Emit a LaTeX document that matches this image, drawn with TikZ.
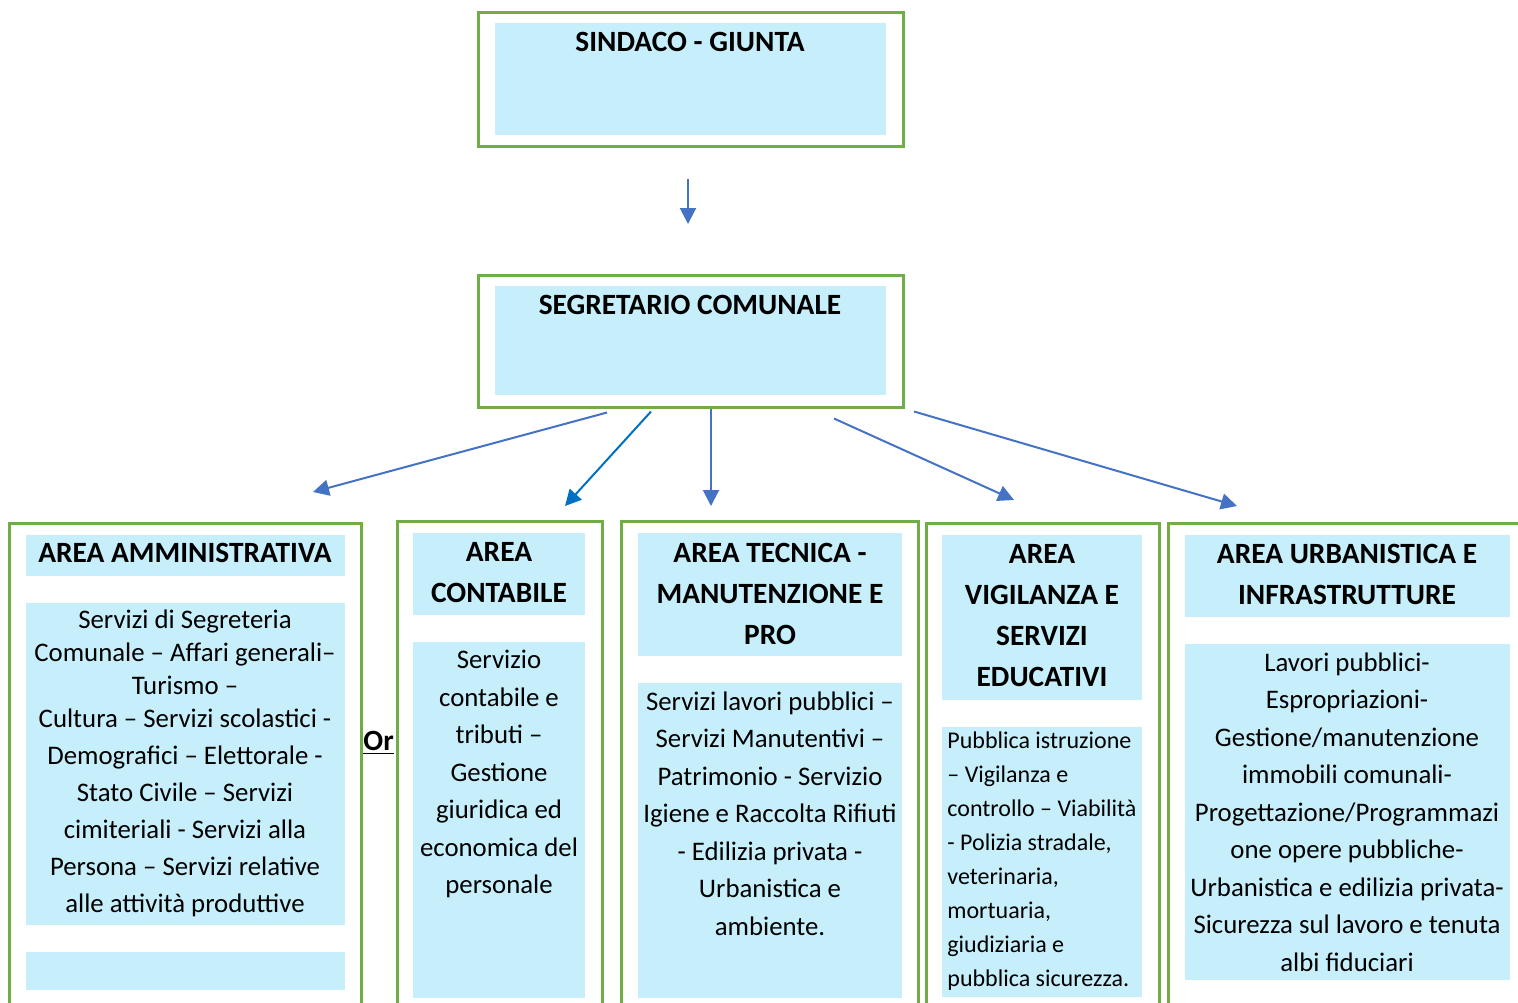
\documentclass[tikz,border=0pt]{standalone}
\usepackage{fontspec}
\setmainfont{Carlito}
\usepackage{xcolor}
\usepackage{tikz}
\usetikzlibrary{arrows.meta, positioning, fit, calc}
\definecolor{framegreen}{RGB}{112, 173, 71}
\definecolor{panelblue}{RGB}{198, 239, 251}
\definecolor{arrowblue}{RGB}{68, 114, 196}
\definecolor{arrowcyan}{RGB}{0, 112, 192}

\begin{document}
\begin{tikzpicture}[x=0.5pt, y=-0.5pt,
    frame/.style={rectangle, draw=framegreen, line width=1.5pt, inner sep=0pt},
    panel/.style={rectangle, fill=panelblue, inner sep=0pt},
    title/.style={align=center, inner sep=0pt, font=\fontsize{14.7}{20.5}\selectfont\bfseries},
    body/.style={align=center, inner sep=0pt, font=\fontsize{13.4}{18.75}\selectfont},
    small/.style={align=left, inner sep=0pt, font=\fontsize{12}{17}\selectfont},
    line/.style={draw=arrowblue, line width=1pt, -{Triangle[length=8pt,width=8pt]}}]

    \path [use as bounding box, clip] (0,0) rectangle (1518,1002);

    % top of the chart
    \node [frame, fit={(478,12) (903,146)}] (sind) {};
    \node [panel, fit={(495,23) (886,135)}] (sindP) {};
    \node [title] (sindT) at (690,42) {SINDACO - GIUNTA};

    \node [frame, fit={(478,275) (903,407)}] (segr) {};
    \node [panel, fit={(495,286) (886,395)}] (segrP) {};
    \node [title] (segrT) at (690,305) {SEGRETARIO COMUNALE};

    \coordinate (segrIn) at (688,224);
    \coordinate (ammIn) at (313,492);
    \coordinate (contIn) at (565,506);
    \coordinate (tecIn) at (711,506);
    \coordinate (vigIn) at (1014,500);
    \coordinate (urbIn) at (1237,506);

    % area frames
    \node [frame, fit={(9,523) (361,1015)}] (amm) {};
    \node [frame, fit={(397,521) (602,1015)}] (cont) {};
    \node [frame, fit={(621,521) (918,1015)}] (tec) {};
    \node [frame, fit={(926,523) (1159,1015)}] (vig) {};
    \node [frame, fit={(1168,523) (1530,1015)}] (urb) {};

    % area amministrativa
    \node [panel, fit={(26,535) (345,576)}] (ammTP) {};
    \node [title] (ammT) at (185,553) {AREA AMMINISTRATIVA};
    \node [panel, fit={(26,603) (345,925)}] (ammBP) {};
    \node [body, font=\fontsize{13.4}{16.5}\selectfont] (ammB) at (185,763) {Servizi di Segreteria\\ Comunale -- Affari generali--\\ Turismo --\\ Cultura -- Servizi scolastici -\\[2pt] Demografici -- Elettorale -\\[2pt] Stato Civile -- Servizi\\[2pt] cimiteriali - Servizi alla\\[2pt] Persona -- Servizi relative\\[2pt] alle attività produttive};
    \node [panel, fit={(26,952) (345,990)}] (ammX) {};
    \node [anchor=west, inner sep=0pt, font=\fontsize{14.7}{17}\selectfont\bfseries] (orLab) at (363,743) {\underline{Or}};

    % area contabile
    \node [panel, fit={(413,533) (585,615)}] (contTP) {};
    \node [title] (contT) at (499,573) {AREA\\ CONTABILE};
    \node [panel, fit={(413,642) (585,998)}] (contBP) {};
    \node [body, anchor=north] (contB) at (499,650) {Servizio\\ contabile e\\ tributi --\\ Gestione\\ giuridica ed\\ economica del\\ personale};

    % area tecnica
    \node [panel, fit={(638,533) (902,656)}] (tecTP) {};
    \node [title] (tecT) at (770,594) {AREA TECNICA -\\ MANUTENZIONE E\\ PRO};
    \node [panel, fit={(638,683) (902,998)}] (tecBP) {};
    \node [body, anchor=north] (tecB) at (770,691) {Servizi lavori pubblici --\\ Servizi Manutentivi --\\ Patrimonio - Servizio\\ Igiene e Raccolta Rifiuti\\ - Edilizia privata -\\ Urbanistica e\\ ambiente.};

    % area vigilanza
    \node [panel, fit={(942,535) (1142,700)}] (vigTP) {};
    \node [title] (vigT) at (1042,616) {AREA\\ VIGILANZA E\\ SERVIZI\\ EDUCATIVI};
    \node [panel, fit={(942,727) (1142,997)}] (vigBP) {};
    \node [small, anchor=west] (vigB) at (947,861) {Pubblica istruzione\\ -- Vigilanza e\\ controllo -- Viabilità\\ - Polizia stradale,\\ veterinaria,\\ mortuaria,\\ giudiziaria e\\ pubblica sicurezza.};

    % area urbanistica
    \node [panel, fit={(1185,535) (1510,617)}] (urbTP) {};
    \node [title] (urbT) at (1347,574) {AREA URBANISTICA E\\ INFRASTRUTTURE};
    \node [panel, fit={(1185,644) (1510,980)}] (urbBP) {};
    \node [body] (urbB) at (1347,812) {Lavori pubblici-\\ Espropriazioni-\\ Gestione/manutenzione\\ immobili comunali-\\ Progettazione/Programmazi\\ one opere pubbliche-\\ Urbanistica e edilizia privata-\\ Sicurezza sul lavoro e tenuta\\ albi fiduciari};

    % arrows
    \path [line] ($(sind.south)+(-2.5,31)$) -- (segrIn);
    \path [line] ($(segr.south)+(-83.5,4)$) -- (ammIn);
    \path [line, draw=arrowcyan] ($(segr.south)+(-39.5,3)$) -- (contIn);
    \path [line] ($(segr.south)+(20.5,0)$) -- (tecIn);
    \path [line] ($(segr.south)+(143.5,10)$) -- (vigIn);
    \path [line] ($(segr.south)+(223.5,3)$) -- (urbIn);
\end{tikzpicture}
\end{document}
